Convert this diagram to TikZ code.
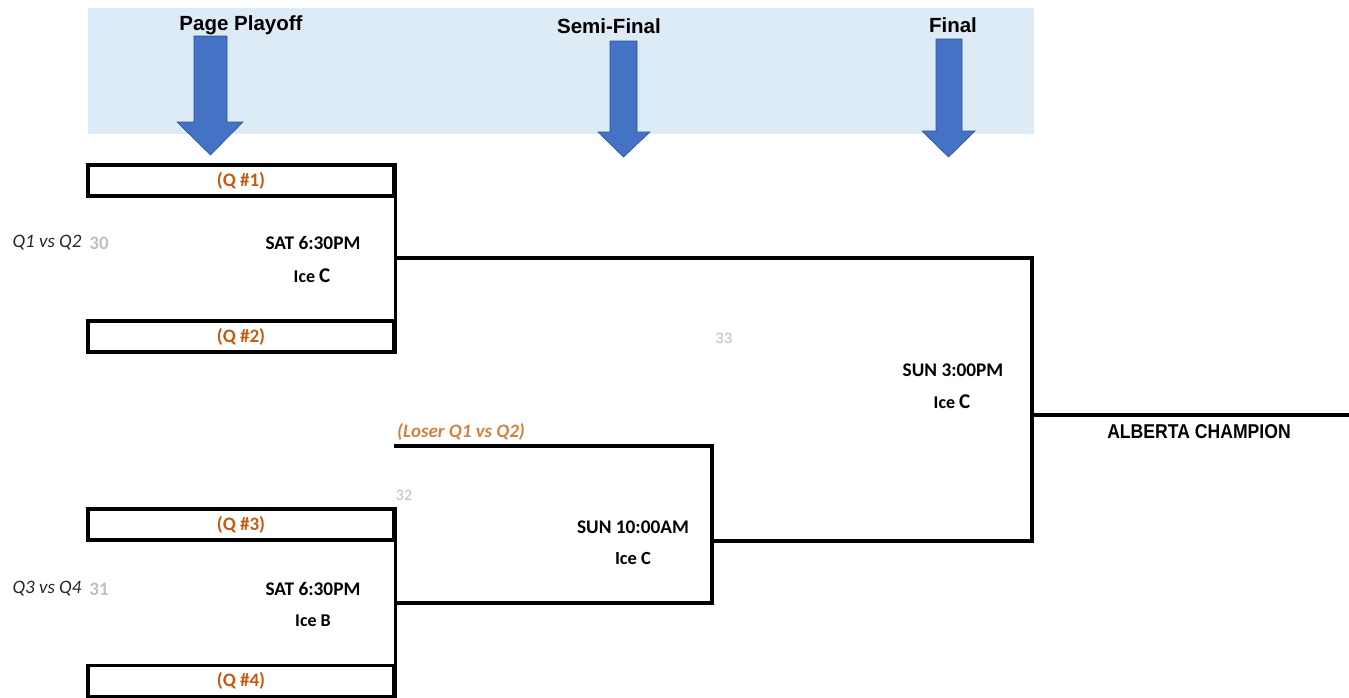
\documentclass[tikz,border=0pt]{standalone}
\usepackage{fontspec}
\setmainfont{Carlito}
\newfontfamily\arialf{Liberation Sans}
\definecolor{bandblue}{HTML}{DDEBF7}
\definecolor{arrowblue}{HTML}{4472C4}
\definecolor{arrowedge}{HTML}{2F528F}
\definecolor{qorange}{HTML}{C55A11}
\definecolor{loserorange}{HTML}{D4803F}
\definecolor{numgray}{HTML}{BFBFBF}
\definecolor{textdark}{HTML}{262626}
\tikzset{
  qbox/.style={draw=black, line width=3.4pt, minimum width=306pt, minimum height=31pt, inner sep=0pt,
    text=qorange, font=\fontsize{19}{20}\selectfont\bfseries},
  bracket/.style={draw=black, line width=3.2pt},
  heading/.style={font=\arialf\fontsize{20.5}{22}\selectfont\bfseries, inner sep=0pt},
  gametime/.style={font=\fontsize{19.3}{20}\selectfont\bfseries, inner sep=0pt},
  icetext/.style={font=\fontsize{18}{20}\selectfont\bfseries, inner sep=0pt},
  matchup/.style={font=\fontsize{19}{20}\selectfont\itshape, text=textdark, inner sep=0pt},
  gamenum/.style={font=\fontsize{19}{20}\selectfont\bfseries, text=numgray, inner sep=0pt},
  smallnum/.style={font=\fontsize{16}{18}\selectfont, text=numgray, inner sep=0pt},
  bigarrow/.style={fill=arrowblue, draw=arrowedge, line width=0.6pt}
}
\begin{document}
\begin{tikzpicture}[x=1pt,y=-1pt]
\useasboundingbox (0,0) rectangle (1349,697);
% band
\fill[bandblue] (88,8) rectangle (1034,134);
% headings
\node[heading] (hpage) at (241,25) {Page Playoff};
\node[heading] (hsemi) at (609,26) {Semi-Final};
\node[heading] (hfinal) at (953,25) {Final};
% arrows
\draw[bigarrow] (194,36) -- (227,36) -- (227,122) -- (243,122) -- (210.5,155) -- (177,122) -- (194,122) -- cycle;
\draw[bigarrow] (610,41) -- (637,41) -- (637,132) -- (650,132) -- (623.5,157) -- (598,132) -- (610,132) -- cycle;
\draw[bigarrow] (936,39) -- (962,39) -- (962,131) -- (975,131) -- (948.5,157) -- (922,131) -- (936,131) -- cycle;
% boxes
\node[qbox] (q1) at (241,180.5) {(Q \#1)};
\node[qbox] (q2) at (241,336.5) {(Q \#2)};
\node[qbox] (q3) at (241,524.5) {(Q \#3)};
\node[qbox] (q4) at (241,681) {(Q \#4)};
% bracket coordinates
\coordinate (w1) at (394,258);
\coordinate (f1) at (1032,258);
\coordinate (f2) at (1032,541);
\coordinate (s3) at (712,541);
\coordinate (fc) at (1032,415);
\coordinate (champ) at (1349,415);
\coordinate (l1) at (394,446);
\coordinate (s1) at (712,446);
\coordinate (s2) at (712,603);
\coordinate (w2) at (394,603);
% bracket lines
\draw[bracket] (q1.north east) -- (q2.south east);
\draw[bracket] (q3.north east) -- (q4.south east);
\draw[bracket] (w1) -- (f1) -- (f2) -- (s3);
\draw[bracket] (fc) -- (champ);
\draw[bracket] (l1) -- (s1) -- (s2) -- (w2);
% game 30
\node[matchup] (m1) at (47,243) {Q1 vs Q2};
\node[gamenum] (g30) at (99,243) {30};
\node[gametime] (t1) at (313,243) {SAT 6:30PM};
\node[icetext] (i1) at (312,276) {Ice {\fontsize{21}{20}\selectfont C}};
% game 31
\node[matchup] (m2) at (47,589) {Q3 vs Q4};
\node[gamenum] (g31) at (99,589) {31};
\node[gametime] (t2) at (313,589) {SAT 6:30PM};
\node[icetext] (i2) at (313,621) {Ice B};
% game 32
\node[font=\fontsize{19}{20}\selectfont\bfseries\itshape, text=loserorange, inner sep=0pt, anchor=west] (loser) at (397,432) {(Loser Q1 vs Q2)};
\node[smallnum] (g32) at (404,495) {32};
\node[gametime] (t3) at (633,527) {SUN 10:00AM};
\node[icetext, font=\fontsize{18.5}{20}\selectfont\bfseries] (i3) at (633,558) {Ice C};
% game 33
\node[smallnum, font=\arialf\fontsize{15}{18}\selectfont] (g33) at (724,338) {33};
\node[gametime] (t4) at (953,370) {SUN 3:00PM};
\node[icetext] (i4) at (952,402) {Ice {\fontsize{21}{20}\selectfont C}};
% champion
\node[inner sep=0pt, font=\arialf\fontsize{20}{22}\selectfont\bfseries, xscale=0.88] (champion) at (1199,432) {ALBERTA CHAMPION};
\end{tikzpicture}
\end{document}
